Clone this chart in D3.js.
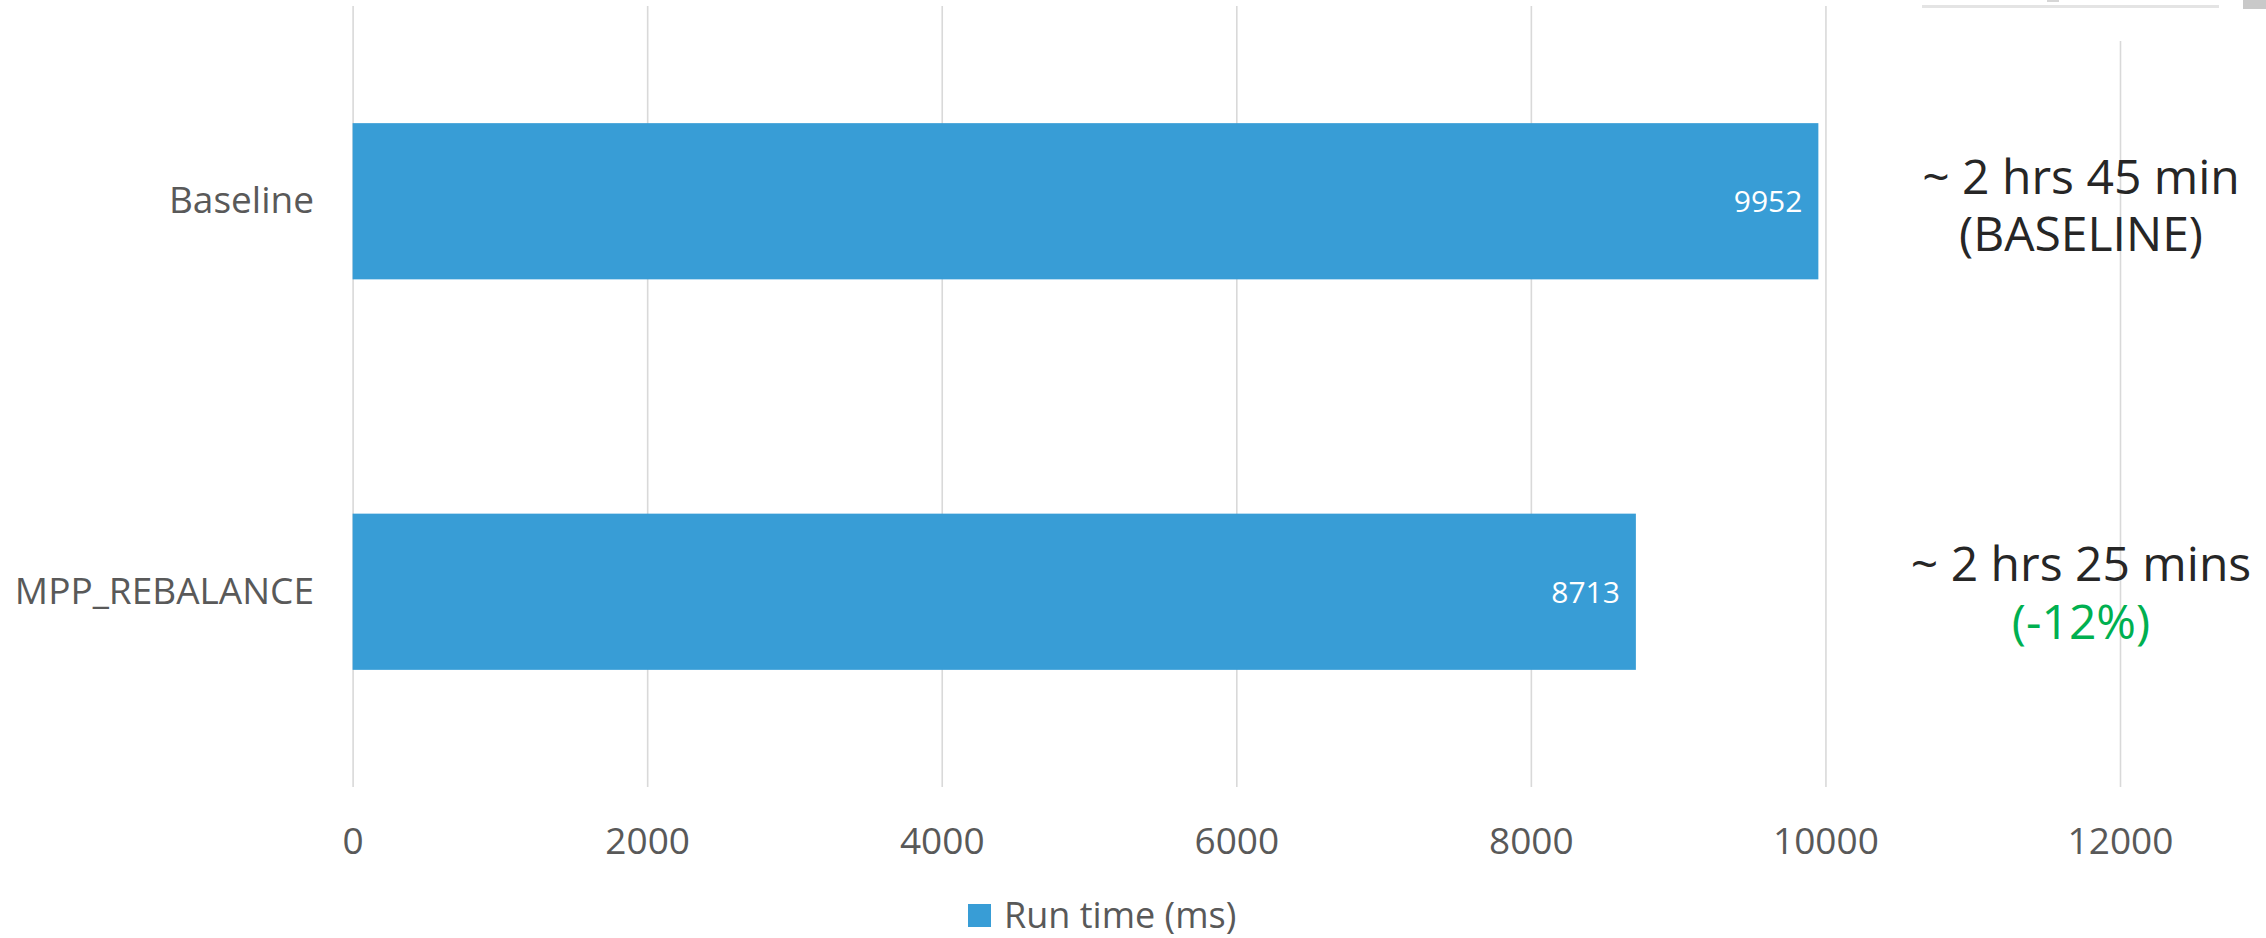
<!DOCTYPE html>
<html>
<head>
<meta charset="utf-8">
<script src="https://cdn.jsdelivr.net/npm/d3@7"></script>
<style>
  html, body { margin: 0; padding: 0; background: #ffffff; }
  svg { display: block; font-family: "Open Sans", "Noto Sans", sans-serif; }
</style>
</head>
<body>
<svg id="chart" width="2266" height="938"></svg>
<script>
// Run times per configuration
const categories = ["Baseline", "MPP_REBALANCE"];
const runTimes = [9952, 8713];
const seriesName = "Run time (ms)";
const xTicks = [0, 2000, 4000, 6000, 8000, 10000, 12000];
const notesMain = ["~ 2 hrs 45 min", "~ 2 hrs 25 mins"];
const notesSub = ["(BASELINE)", "(-12%)"];
const notesSubColors = ["#262626", "#00b050"];

const barColor = "#389dd6";
const textGray = "#595959";

const svg = d3.select("#chart");
const plot = { left: 352.6, right: 2120, top: 6, bottom: 787 };

const x = d3.scaleLinear().domain([0, 12000]).range([plot.left, plot.right]);
const y = d3.scaleBand().domain(categories).range([plot.top, plot.bottom])
  .paddingInner(0.6).paddingOuter(0.3);

// vertical gridlines + tick labels
const xAxis = d3.axisBottom(x).tickValues(xTicks).tickFormat(d3.format("d"))
  .tickSize(-(plot.bottom - plot.top)).tickPadding(41);
const gx = svg.append("g").attr("transform", `translate(0,${plot.bottom})`).call(xAxis);
gx.select(".domain").remove();
gx.selectAll(".tick line").attr("stroke", "#d9d9d9").attr("stroke-width", 1.6);
gx.selectAll(".tick text").attr("fill", textGray).attr("font-size", 37).attr("font-family", "Open Sans");

// category labels
svg.append("g").selectAll("text").data(categories).join("text")
  .attr("x", 314)
  .attr("y", d => y(d) + y.bandwidth() / 2 + 12)
  .attr("text-anchor", "end")
  .attr("fill", textGray)
  .attr("font-size", 37)
  .text(d => d);

// bars
svg.append("g").selectAll("rect").data(categories).join("rect")
  .attr("x", x(0))
  .attr("y", d => y(d))
  .attr("width", (d, i) => x(runTimes[i]) - x(0))
  .attr("height", y.bandwidth())
  .attr("fill", barColor);

// value labels inside bar ends
svg.append("g").selectAll("text").data(categories).join("text")
  .attr("x", (d, i) => x(runTimes[i]) - 16)
  .attr("y", d => y(d) + y.bandwidth() / 2 + 11)
  .attr("text-anchor", "end")
  .attr("fill", "#ffffff")
  .attr("font-size", 30)
  .text((d, i) => runTimes[i]);

// annotations on the right
const notes = svg.append("g").attr("font-size", 48).attr("text-anchor", "middle");
categories.forEach((c, i) => {
  const cy = y(c) + y.bandwidth() / 2;
  notes.append("text").attr("x", 2081).attr("y", cy - 7 + (i === 1 ? -4 : 0))
    .attr("fill", "#262626").text(notesMain[i]);
  notes.append("text").attr("x", 2081).attr("y", cy + 50 + (i === 1 ? -3 : 0))
    .attr("fill", notesSubColors[i]).text(notesSub[i]);
});

// legend
const legend = svg.append("g").attr("transform", "translate(968,904)");
legend.append("rect").attr("width", 23).attr("height", 23).attr("fill", barColor);
legend.append("text").attr("x", 36).attr("y", 23.5)
  .attr("fill", textGray).attr("font-size", 36).text(seriesName);

// strip along the top right edge
const strip = svg.append("g");
strip.append("rect").attr("x", 1900).attr("y", 0).attr("width", 366).attr("height", 41).attr("fill", "#ffffff");
strip.append("rect").attr("x", 1922).attr("y", 5).attr("width", 297).attr("height", 3).attr("fill", "#e4e4e4");
strip.append("rect").attr("x", 2047).attr("y", 0).attr("width", 12).attr("height", 2).attr("fill", "#d6d6d6");
strip.append("rect").attr("x", 2243).attr("y", 0).attr("width", 23).attr("height", 9).attr("fill", "#c9c9c9");
</script>
</body>
</html>
